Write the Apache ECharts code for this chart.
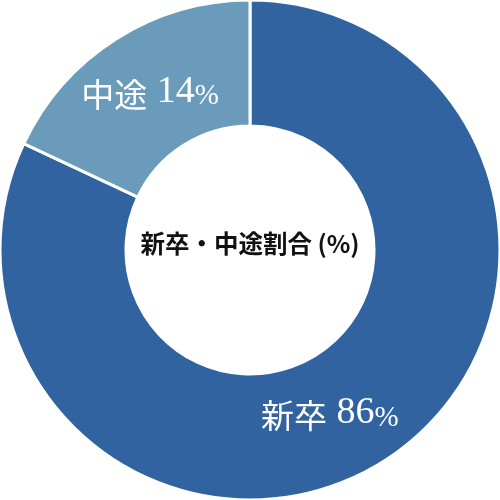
<!DOCTYPE html>
<html>
<head>
<meta charset="utf-8">
<script src="https://cdn.jsdelivr.net/npm/echarts@6/dist/echarts.min.js"></script>
<style>html,body{margin:0;padding:0;background:#fff;}#c{width:500px;height:500px;}</style>
</head>
<body>
<div id="c"></div>
<script>
// Data
var categories = ['新卒', '中途'];
var drawnShares = [82, 18];          // angular share as drawn
var labelPercents = ['86', '14'];    // percentage printed on each slice
var centerTitle = '新卒・中途割合 (%)';
var colors = ['#3063a0', '#6b9bba'];
var labelOffsets = [[-22, 2], [2, 1]];

var chart = echarts.init(document.getElementById('c'), null, {renderer: 'canvas'});
var data = categories.map(function (name, i) {
  return {
    name: name,
    value: drawnShares[i],
    itemStyle: {color: colors[i]},
    label: {offset: labelOffsets[i]}
  };
});

chart.setOption({
  animation: false,
  title: {
    text: centerTitle,
    left: 'center',
    top: 226,
    textStyle: {
      fontFamily: '"Noto Sans CJK JP", "Noto Sans", sans-serif',
      fontWeight: 'bold',
      fontSize: 24.5,
      color: '#111'
    }
  },
  series: [{
    type: 'pie',
    center: [250, 250],
    radius: [124, 250],
    startAngle: 90,
    clockwise: true,
    data: data,
    itemStyle: {borderColor: '#fff', borderWidth: 3},
    emphasis: {disabled: true},
    label: {
      show: true,
      position: 'inside',
      formatter: function (p) {
        return '{k|' + p.name + '}{n| ' + labelPercents[p.dataIndex] + '}{p|%}';
      },
      rich: {
        k: {fontFamily: '"Noto Sans CJK JP", serif', fontSize: 33, color: '#fff', verticalAlign: 'bottom', lineHeight: 40},
        n: {fontFamily: '"Liberation Serif", serif', fontSize: 38, color: '#fff', verticalAlign: 'bottom', lineHeight: 40},
        p: {fontFamily: '"Liberation Serif", serif', fontSize: 29, color: '#fff', verticalAlign: 'bottom', lineHeight: 38}
      }
    },
    labelLine: {show: false}
  }]
});
</script>
</body>
</html>
